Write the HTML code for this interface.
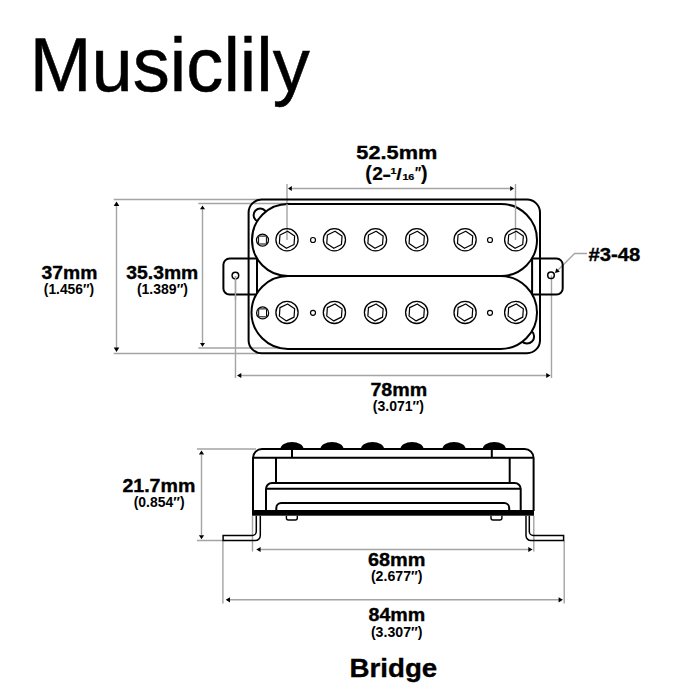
<!DOCTYPE html>
<html><head><meta charset="utf-8">
<style>
html,body{margin:0;padding:0;background:#fff;width:700px;height:700px;overflow:hidden}
svg{display:block}
text{font-family:"Liberation Sans",sans-serif;fill:#000}
.b{font-weight:bold;stroke:#000;stroke-width:0.35}
.p{font-weight:bold}
.f{font-weight:bold;stroke:#000;stroke-width:0.2}
.k{fill:none;stroke:#000;stroke-width:2}
.g{fill:none;stroke:#a4a4a4;stroke-width:1.4}
.ar{fill:#000;stroke:none}
</style></head>
<body>
<svg width="700" height="700" viewBox="0 0 700 700">
<rect width="700" height="700" fill="#fff"/>
<!-- Title -->

<!-- ===== TOP VIEW ===== -->
<g id="top">
  <!-- gray dimension / extension lines -->
  <path class="g" d="M113.7 199.5H258 M113.7 353.5H258 M198.3 203.5H290 M198.3 348H290"/>
  <path class="g" d="M116.5 204V349 M202.5 208V344"/>
  <path class="g" d="M287 184V240 M515.5 184V240 M290 188.5H512"/>
  <path class="g" d="M235.5 276V378 M551.5 275.5V378 M239 375.5H548"/>
  <path class="g" d="M557.5 270.5L574.6 253.5H587"/>
  <!-- arrowheads -->
  <path class="ar" d="M116.5 201.6l-2.8 4.3h5.6z M116.5 351.9l-2.8 -4.3h5.6z M202.5 205.5l-2.5 3.7h5z M202.5 346.8l-2.5 -3.7h5z"/>
  <path class="ar" d="M288 188.5l3.8 -2.6v5.2z M514 188.5l-3.8 -2.6v5.2z M237 375.5l4.3 -2.6v5.2z M550.5 375.5l-4.3 -2.6v5.2z"/>
  <path class="ar" d="M555 273.1L556.3 268.3L559.8 271.8Z"/>

  <!-- tabs -->
  <path class="k" d="M257 258.6H229.6A6.2 6.2 0 0 0 223.4 264.8V288.4A6.2 6.2 0 0 0 229.6 294.6H257V258.6"/>
  <path class="k" d="M532.1 258.6H556.5A6.2 6.2 0 0 1 562.7 264.8V288.4A6.2 6.2 0 0 1 556.5 294.6H532.1V258.6"/>
  <circle class="k" cx="235.4" cy="275.6" r="3.3" style="stroke-width:1.5"/>
  <circle class="k" cx="551" cy="275.3" r="3.3" style="stroke-width:1.5"/>
  <!-- plate -->
  <rect class="k" x="248.6" y="199.6" width="291.4" height="153.6" rx="13" ry="13"/>
  <!-- bumps -->
  <circle class="k" cx="260.2" cy="215.2" r="6.6" fill="#fff"/>
  <circle class="k" cx="527" cy="336.4" r="7.1" fill="#fff"/>
  <!-- coils -->
  <path d="M288 204H501A36 36 0 0 1 501 276H288A36 36 0 0 1 288 204Z" fill="#fff" stroke="#000" stroke-width="2"/>
  <path d="M288 276H500.5A36.5 36.5 0 0 1 500.5 349H288A36.5 36.5 0 0 1 288 276Z" fill="#fff" stroke="#000" stroke-width="2"/>
  <!-- redraw gray ext lines through screws -->
  <path class="g" d="M287 204V240 M515.5 204V240 M235.5 276V300"/>

  <!-- square screws -->
  <g fill="none" stroke="#000">
    <circle cx="262.5" cy="240.1" r="6" stroke-width="1.3"/>
    <rect x="258.6" y="236.1" width="7.8" height="7.9" rx="0.8" stroke-width="1"/>
    <circle cx="262.6" cy="312.9" r="6" stroke-width="1.3"/>
    <rect x="258.7" y="308.9" width="7.8" height="7.9" rx="0.8" stroke-width="1"/>
  </g>
  <!-- dots -->
  <g fill="none" stroke="#000" stroke-width="1.2">
    <circle cx="313" cy="240" r="2.5"/><circle cx="490" cy="240" r="2.5"/>
    <circle cx="313" cy="312.8" r="2.5"/><circle cx="490" cy="312.8" r="2.5"/>
  </g>
  <!-- pole screws -->
  <defs>
    <g id="ps">
      <circle cx="0" cy="0" r="11.1" fill="none" stroke="#000" stroke-width="1.3"/>
      <path transform="rotate(4)" d="M0 -8.5L7.36 -4.25V4.25L0 8.5L-7.36 4.25V-4.25Z" fill="none" stroke="#000" stroke-width="1.2" stroke-linejoin="round"/>
    </g>
  </defs>
  <use href="#ps" x="287" y="239.8"/>
  <use href="#ps" x="334.4" y="239.8"/>
  <use href="#ps" x="375.5" y="239.8"/>
  <use href="#ps" x="416.7" y="239.8"/>
  <use href="#ps" x="465.1" y="239.8"/>
  <use href="#ps" x="515.7" y="239.8"/>
  <use href="#ps" x="287" y="312.4"/>
  <use href="#ps" x="334.4" y="312.4"/>
  <use href="#ps" x="375.5" y="312.4"/>
  <use href="#ps" x="416.7" y="312.4"/>
  <use href="#ps" x="465.1" y="312.4"/>
  <use href="#ps" x="515.7" y="312.4"/>
</g>

<!-- top labels -->

<!-- ===== SIDE VIEW ===== -->
<g id="side">
  <path class="g" d="M197 449H256 M197 540.5H226 M201.5 455V535"/>
  <path class="ar" d="M201.5 450.6l-2.6 4h5.2z M201.5 539.2l-2.6 -4h5.2z"/>
  <path class="g" d="M252.5 516V551.4 M533.8 516V551.4 M260 549.5H529"/>
  <path class="ar" d="M256.3 549.5l4.3 -2.6v5.2z M532.6 549.5l-4.3 -2.6v5.2z"/>
  <path class="g" d="M222.9 540.6V603.4 M564.2 540.6V603.4 M229 599.8H559"/>
  <path class="ar" d="M225.7 599.8l4.3 -2.6v5.2z M562.9 599.8l-4.3 -2.6v5.2z"/>

  <!-- domes -->
  <g fill="#000">
    <path d="M280.5 449A11.5 7 0 0 1 303.5 449Z"/>
    <path d="M320.5 449A11.5 7 0 0 1 343.5 449Z"/>
    <path d="M361 449A11.5 7 0 0 1 384 449Z"/>
    <path d="M400.5 449A11.5 7 0 0 1 423.5 449Z"/>
    <path d="M442.5 449A11.5 7 0 0 1 465.5 449Z"/>
    <path d="M482.8 449A11.5 7 0 0 1 505.8 449Z"/>
  </g>
  <!-- outer body -->
  <path class="k" d="M253 511V458A9 9 0 0 1 262 449H524.6A9 9 0 0 1 533.6 458V511 M253 457.8H533.6 M292 449V458 M491.8 449V458 M276 458V483 M509.7 458V483"/>
  <!-- 2nd body -->
  <path class="k" d="M266 511V489A6 6 0 0 1 272 483H514.7A6 6 0 0 1 520.7 489V511 M266 488.8H520.7"/>
  <!-- 3rd body -->
  <path class="k" d="M276.3 511V508A5 5 0 0 1 281.3 503H504.2A5 5 0 0 1 509.2 508V511"/>
  <!-- base -->
  <rect x="252" y="510" width="282" height="5.7" fill="#000"/>
  <!-- bumps -->
  <path class="k" style="stroke-width:1.4" d="M286.4 515.7V518A2 2 0 0 0 288.4 520H295.3A2 2 0 0 0 297.3 518V515.7"/>
  <path class="k" style="stroke-width:1.4" d="M491 515.7V518A2 2 0 0 0 493 520H499.9A2 2 0 0 0 501.9 518V515.7"/>
  <!-- legs -->
  <path class="k" style="stroke-width:1.5" d="M256.3 515.7V531.4A4 4 0 0 1 252.3 535.4H223.1V540.6H255.3A5 5 0 0 0 260.3 535.6V515.7"/>
  <path class="k" style="stroke-width:1.5" d="M529.3 515.7V531.4A4 4 0 0 0 533.3 535.4H563.6V540.6H531A5 5 0 0 1 526 535.6V515.7"/>
</g>

<g id="labels">
<text font-size="76" style="stroke:#000;stroke-width:0.5" transform="matrix(0.9757 0 0 1 29.77 90.70)">Musiclily</text>
<text class="b" font-size="18.80" transform="matrix(1.1561 0 0 1 356.35 159.40)">52.5mm</text>
<text class="b" font-size="18.30" transform="matrix(1.0579 0 0 1 41.41 279.00)">37mm</text>
<text class="p" font-size="14.00" transform="matrix(0.9859 0 0 1 43.81 294.30)">(1.456″)</text>
<text class="b" font-size="18.30" transform="matrix(1.0569 0 0 1 126.31 278.90)">35.3mm</text>
<text class="p" font-size="14.00" transform="matrix(1.0020 0 0 1 136.90 294.40)">(1.389″)</text>
<text class="b" font-size="19.2" transform="matrix(1.054 0 0 1 588.6 260.9)">#3-48</text>
<text class="b" font-size="18.30" transform="matrix(1.0733 0 0 1 370.41 395.70)">78mm</text>
<text class="p" font-size="14.00" transform="matrix(1.0040 0 0 1 372.80 411.30)">(3.071″)</text>
<text class="b" font-size="18.30" transform="matrix(1.0703 0 0 1 122.41 492.20)">21.7mm</text>
<text class="p" font-size="14.00" transform="matrix(0.9960 0 0 1 133.70 507.30)">(0.854″)</text>
<text class="b" font-size="18.30" transform="matrix(1.0870 0 0 1 368.00 566.30)">68mm</text>
<text class="p" font-size="14.00" transform="matrix(1.0121 0 0 1 370.89 581.10)">(2.677″)</text>
<text class="b" font-size="18.30" transform="matrix(1.0734 0 0 1 368.51 621.40)">84mm</text>
<text class="p" font-size="14.00" transform="matrix(1.0121 0 0 1 370.89 636.60)">(3.307″)</text>
<text class="b" font-size="26.50" transform="matrix(1.0470 0 0 1 349.46 676.90)">Bridge</text>
<g style="stroke-width:0.2">
<text class="f" font-size="19.6" transform="translate(365.2 180.4)">(</text>
<text class="f" font-size="17.7" transform="matrix(1.08 0 0 1 372.3 180.4)">2</text>
<text class="f" font-size="17.7" transform="matrix(1.5 0 0 1 382.3 180.6)">-</text>
<text class="f" font-size="8.2" transform="matrix(1.3 0 0 1 390.4 173.6)">1</text>
<text class="f" font-size="16.8" transform="matrix(1.15 0 0 1 396.3 180.4)">/</text>
<text class="f" font-size="8.6" transform="matrix(1.25 0 0 1 402.4 180.4)">16</text>
<text class="f" font-size="16" transform="matrix(0.8 0 0 1 414.9 179.2)">″</text>
<text class="f" font-size="19.6" transform="translate(421 180.4)">)</text>
</g>
</g>
</svg>
</body></html>
